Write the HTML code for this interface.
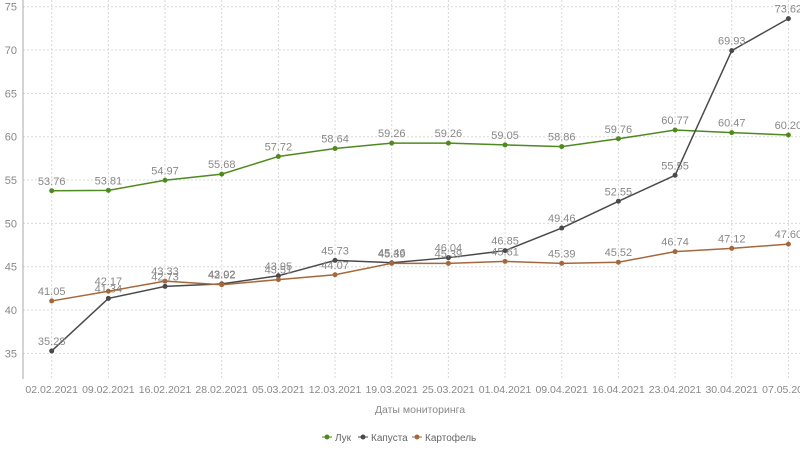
<!DOCTYPE html>
<html><head><meta charset="utf-8"><style>
body{margin:0;background:#fff;font-family:"Liberation Sans",sans-serif}
</style></head><body>
<svg id="s" width="800" height="450" xmlns="http://www.w3.org/2000/svg" font-family="Liberation Sans, sans-serif"></svg>
<script>
const s=document.getElementById('s');
let h='';
const X=i=>51.7+i*56.67, Y=v=>266.7-(v-45)*8.667;
const dates=["02.02.2021","09.02.2021","16.02.2021","28.02.2021","05.03.2021","12.03.2021","19.03.2021","25.03.2021","01.04.2021","09.04.2021","16.04.2021","23.04.2021","30.04.2021","07.05.2021"];
for(let v=35;v<=75;v+=5){h+=`<line x1="23" x2="800" y1="${Y(v)}" y2="${Y(v)}" stroke="#d8d8d8" stroke-dasharray="2,2"/>`;
h+=`<text x="17" y="${Y(v)+4}" text-anchor="end" font-size="11" fill="#888">${v}</text>`;}
dates.forEach((d,i)=>{h+=`<line x1="${X(i)}" x2="${X(i)}" y1="0" y2="379" stroke="#d8d8d8" stroke-dasharray="2,2"/>`;
h+=`<text x="${X(i)}" y="393" text-anchor="middle" font-size="10.5" fill="#888">${d}</text>`;});
h+=`<line x1="23" x2="23" y1="0" y2="379" stroke="#aaa"/>`;
h+=`<text x="420" y="413" text-anchor="middle" font-size="10.5" fill="#888">Даты мониторинга</text>`;
const S=[["#4e8a1e",[53.76,53.81,54.97,55.68,57.72,58.64,59.26,59.26,59.05,58.86,59.76,60.77,60.47,60.20]],
["#4a4a4a",[35.28,41.34,42.73,43.02,43.95,45.73,45.46,46.04,46.85,49.46,52.55,55.55,69.93,73.62]],
["#a5683c",[41.05,42.17,43.33,42.92,43.51,44.07,45.39,45.39,45.61,45.39,45.52,46.74,47.12,47.60]]];
S.forEach(([c,d])=>{h+=`<polyline fill="none" stroke="${c}" stroke-width="1.5" points="${d.map((v,i)=>X(i)+','+Y(v)).join(' ')}"/>`;
d.forEach((v,i)=>{h+=`<circle cx="${X(i)}" cy="${Y(v)}" r="2.5" fill="${c}"/><text x="${X(i)}" y="${Y(v)-6}" text-anchor="middle" font-size="11" fill="#888">${v.toFixed(2)}</text>`;});});
const L=[["Лук",330,"#4e8a1e"],["Капуста",366,"#4a4a4a"],["Картофель",420,"#a5683c"]];
L.forEach(([t,x,c])=>{h+=`<line x1="${x-8}" x2="${x+2}" y1="437" y2="437" stroke="${c}"/><circle cx="${x-3}" cy="437" r="2.5" fill="${c}"/><text x="${x+5}" y="441" font-size="10" fill="#666">${t}</text>`;});
s.innerHTML=h;
</script>
</body></html>
